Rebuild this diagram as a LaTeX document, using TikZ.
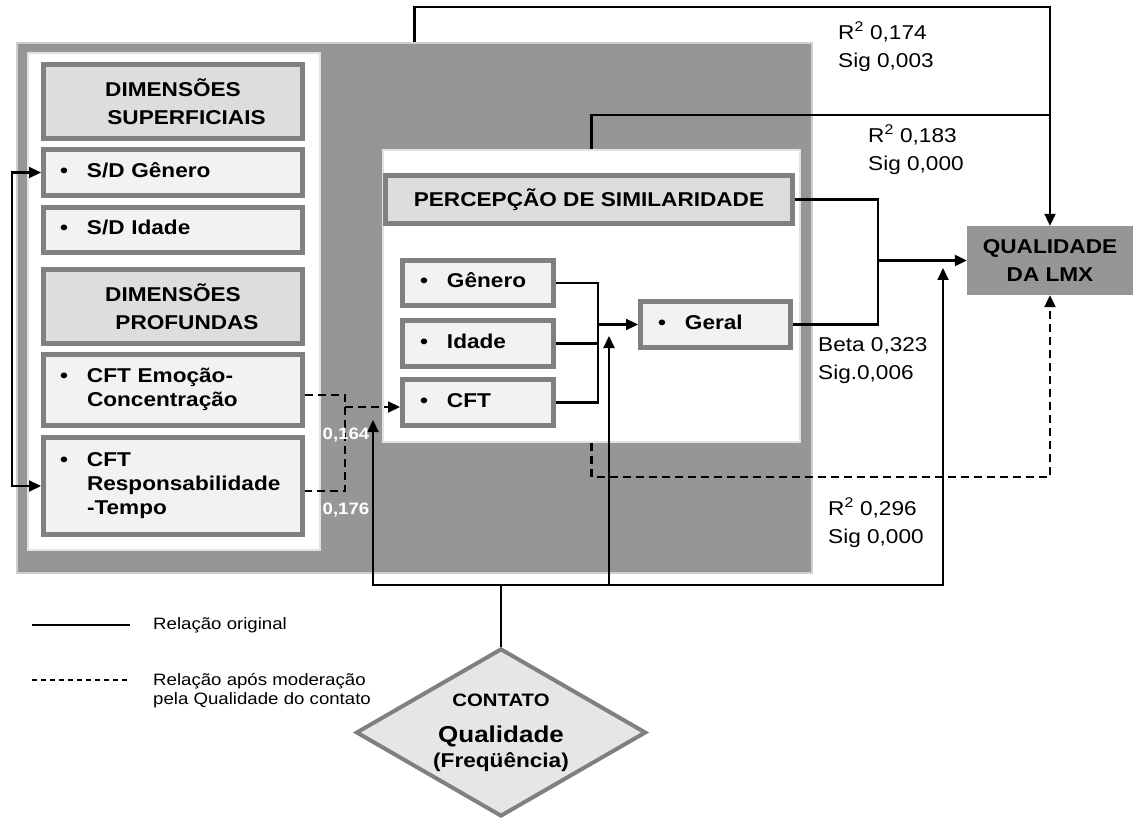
\documentclass[tikz,border=0pt]{standalone}
\usepackage{fontspec}
\setmainfont{Liberation Sans}[FakeStretch=1.13]
\usetikzlibrary{arrows.meta,shapes.geometric}

\definecolor{panelgray}{HTML}{969696}
\definecolor{paneledge}{HTML}{CFCFCF}
\definecolor{whiteedge}{HTML}{E2E2E2}
\definecolor{boxedge}{HTML}{808080}
\definecolor{headfill}{HTML}{DDDDDD}
\definecolor{itemfill}{HTML}{F2F2F2}
\definecolor{diafill}{HTML}{E6E6E6}

\newcommand{\boxfont}{\fontsize{20}{24}\selectfont\bfseries}
\newcommand{\headfont}{\fontsize{20}{28}\selectfont\bfseries}
\newcommand{\statfont}{\fontsize{20}{28}\selectfont}
\newcommand{\legfont}{\fontsize{16.5}{19}\selectfont}
\newcommand{\bulletitem}[1]{\makebox[27pt][l]{\textbullet}\begin{tabular}[t]{@{}l@{}}#1\end{tabular}}
\newcommand{\textstack}[1]{\begin{tabular}[t]{@{}l@{}}#1\end{tabular}}

\begin{document}
\begin{tikzpicture}[
  x=1pt, y=-1pt,
  panel/.style={fill=panelgray, draw=paneledge, line width=2pt, inner sep=0pt},
  whitepanel/.style={fill=white, draw=whiteedge, line width=1.5pt, inner sep=0pt},
  headbox/.style={draw=boxedge, line width=5pt, fill=headfill, inner sep=0pt, align=center, font=\headfont},
  itembox/.style={draw=boxedge, line width=5pt, fill=itemfill, inner xsep=17.5pt, inner ysep=0pt, align=left, font=\boxfont},
  tip/.style={-{Triangle[length=12pt,width=11pt]}},
  conn/.style={line width=2.2pt, draw=black},
  arr/.style={conn, tip},
  dashline/.style={conn, dash pattern=on 8pt off 5pt},
  legline/.style={line width=1.3pt, draw=black},
  stat/.style={anchor=base west, inner sep=0pt, font=\statfont},
  weight/.style={inner sep=0pt, text=white, font=\fontsize{16.5}{18}\selectfont\bfseries},
]
\path[use as bounding box] (0,0) rectangle (1133,821);

% containers
\node[panel, minimum width=795pt, minimum height=530pt] (outer) at (414.5,308) {};
\node[whitepanel, minimum width=292pt, minimum height=497pt] (left) at (174,301.5) {};
\node[whitepanel, minimum width=417pt, minimum height=292pt] (mid) at (591.5,296) {};

% surface and deep dimensions
\node[headbox, minimum width=259pt, minimum height=74pt] (dsup) at (173,101.5)
  {DIMENSÕES\\\hspace*{27pt}SUPERFICIAIS};
\node[itembox, text width=226pt, inner xsep=16.5pt, minimum height=46pt] (sdg) at (173,172.5)
  {\bulletitem{S/D Gênero}};
\node[itembox, text width=226pt, inner xsep=16.5pt, minimum height=45pt] (sdi) at (173,230)
  {\bulletitem{S/D Idade}};
\node[headbox, minimum width=259pt, minimum height=74pt] (dprof) at (173,306.5)
  {DIMENSÕES\\\hspace*{28pt}PROFUNDAS};
\node[itembox, text width=226pt, inner xsep=16.5pt, minimum height=71pt] (cfte) at (173,390)
  {\bulletitem{CFT Emoção-\\Concentração}};
\node[itembox, text width=226pt, inner xsep=16.5pt, minimum height=97pt] (cftr) at (173,486)
  {\bulletitem{CFT\\Responsabilidade\\-Tempo}};

% perceived similarity
\node[headbox, minimum width=407pt, minimum height=48pt] (perc) at (589,199.5)
  {PERCEPÇÃO DE SIMILARIDADE};
\node[itembox, text width=116pt, minimum height=45pt] (genp) at (478,283) {\bulletitem{Gênero}};
\node[itembox, text width=116pt, minimum height=46pt] (idap) at (478,343.5) {\bulletitem{Idade}};
\node[itembox, text width=116pt, minimum height=46pt] (cftp) at (478,402.5) {\bulletitem{CFT}};
\node[itembox, text width=115pt, minimum height=46pt] (geral) at (715.5,324.5) {\bulletitem{Geral}};

% outcome
\node[fill=panelgray, minimum width=166pt, minimum height=69pt, inner sep=0pt,
      align=center, font=\headfont] (lmx) at (1050,260.5) {QUALIDADE\\DA LMX};

% moderator
\node[diamond, draw=boxedge, line width=4pt, fill=diafill, inner sep=0pt,
      minimum width=290pt, minimum height=168pt] (cont) at (501,732.5) {};
\node[anchor=base, inner sep=0pt, font=\fontsize{18}{18}\selectfont\bfseries] (ctitle) at (501,706) {CONTATO};
\node[anchor=base, inner sep=0pt, font=\fontsize{23}{23}\selectfont\bfseries] (cqual) at (501,742.5) {Qualidade};
\node[anchor=base, inner sep=0pt, font=\fontsize{20}{20}\selectfont\bfseries] (cfreq) at (501,767) {(Freqüência)};

% junction points
\path (mid.north) ++(0,-34) coordinate (m2);
\coordinate (jr) at (878,260.5);
\coordinate (jl) at (598,324.5);
\coordinate (dj) at (345,407);
\coordinate (e1) at ([yshift=-5pt]cfte.east);
\coordinate (e2) at ([yshift=-5pt]cftr.east);
\coordinate (b0) at (501,585);
\coordinate (u1) at (373,420);
\coordinate (u2) at (609,336);
\coordinate (u3) at (943,268);

% connectors to the outcome
\draw[arr] (outer.north) -- ++(0,-35) -| (lmx.north);
\draw[conn] (mid.north) -- (m2) -- (m2 -| lmx.north);
\draw[conn] (perc.east) -| (jr |- geral.east) -- (geral.east);
\draw[arr] (jr) -- (lmx.west);

% similarity items to overall similarity
\draw[conn] (genp.east) -| (jl |- cftp.east) -- (cftp.east);
\draw[conn] (idap.east) -- (idap.east -| jl);
\draw[arr] (jl) -- (geral.west);

% link between surface and deep dimensions
\draw[conn, {Triangle[length=12pt,width=11pt]}-{Triangle[length=12pt,width=11pt]}]
  (sdg.west) -- ++(-29,0) |- (cftr.west);

% moderated relations
\draw[dashline] (e1) -| (dj |- e2) -- (e2);
\draw[dashline, tip] (dj) -- (dj -| cftp.west);
\draw[dashline, tip] (mid.south) -- ++(0,34) -| (lmx.south);

% contact quality
\draw[conn] (cont.north) -- (b0);
\draw[arr] (b0) -| (u1);
\draw[arr] (b0) -| (u2);
\draw[arr] (b0) -| (u3);

% statistics
\node[stat] (r1) at (838,39.5) {\textstack{R\textsuperscript{2} 0,174\\Sig 0,003}};
\node[stat] (r2) at (868,142.5) {\textstack{R\textsuperscript{2} 0,183\\Sig 0,000}};
\node[stat] (beta) at (818,351.5) {\textstack{Beta 0,323\\Sig.0,006}};
\node[stat] (r3) at (828,515) {\textstack{R\textsuperscript{2} 0,296\\Sig 0,000}};
\node[weight] (w1) at (346,435) {0,164};
\node[weight] (w2) at (346,510) {0,176};

% legend
\coordinate (la1) at (32,625);
\coordinate (la2) at (130,625);
\coordinate (lb1) at (32,680);
\coordinate (lb2) at (130,680);
\draw[legline] (la1) -- (la2);
\draw[legline, dash pattern=on 5pt off 4pt] (lb1) -- (lb2);
\node[anchor=base west, inner sep=0pt, font=\legfont] (leg1) at (153,629) {Relação original};
\node[anchor=base west, inner sep=0pt, font=\legfont] (leg2) at (153,685)
  {\textstack{Relação após moderação\\pela Qualidade do contato}};
\end{tikzpicture}
\end{document}
